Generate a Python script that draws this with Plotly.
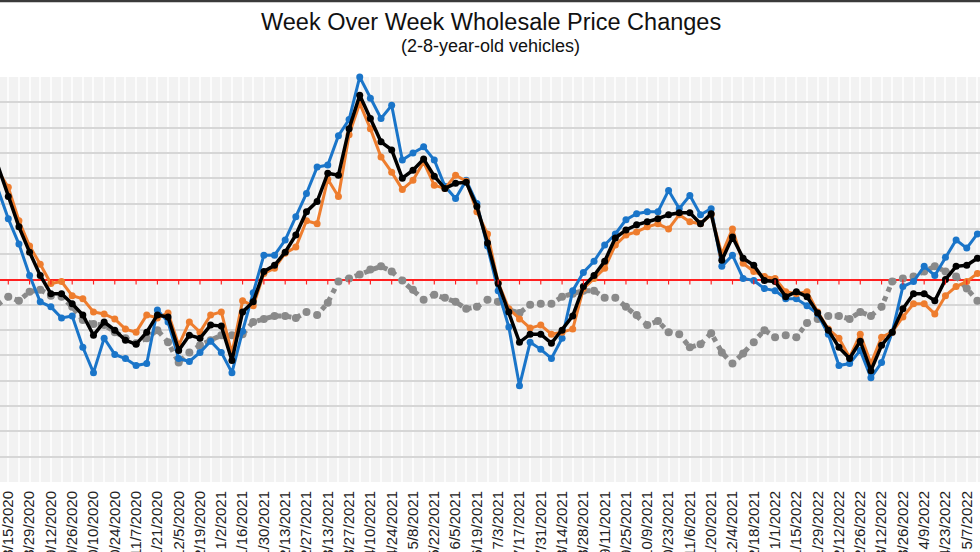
import plotly.graph_objects as go
import pandas as pd

# Weekly observations starting the week of 8/8/2020
start_week = "2020-08-08"

black = [1.13, 0.82, 0.52, 0.27, 0.04, -0.14, -0.14, -0.24, -0.35, -0.55,
         -0.42, -0.50, -0.60, -0.64, -0.52, -0.35, -0.37, -0.70, -0.55, -0.58,
         -0.45, -0.46, -0.80, -0.32, -0.22, 0.08, 0.14, 0.27, 0.44, 0.67,
         0.77, 1.05, 1.03, 1.49, 1.82, 1.59, 1.36, 1.28, 1.00, 1.08,
         1.19, 1.02, 0.90, 0.95, 0.96, 0.72, 0.36, -0.04, -0.32, -0.62,
         -0.54, -0.54, -0.63, -0.50, -0.36, -0.07, 0.04, 0.18, 0.41, 0.49,
         0.54, 0.57, 0.60, 0.64, 0.66, 0.66, 0.55, 0.65, 0.19, 0.42,
         0.21, 0.14, -0.01, -0.02, -0.17, -0.12, -0.17, -0.33, -0.50, -0.67,
         -0.78, -0.61, -0.90, -0.65, -0.52, -0.29, -0.14, -0.14, -0.21, 0.00,
         0.13, 0.14, 0.21]

orange = [1.08, 0.91, 0.58, 0.33, 0.15, -0.04, -0.02, -0.16, -0.19, -0.32,
          -0.34, -0.39, -0.49, -0.52, -0.35, -0.38, -0.33, -0.65, -0.42, -0.52,
          -0.35, -0.32, -0.73, -0.21, -0.26, 0.06, 0.11, 0.26, 0.32, 0.58,
          0.55, 0.99, 0.82, 1.43, 1.74, 1.49, 1.21, 1.06, 0.89, 0.98,
          1.16, 0.93, 0.90, 1.03, 0.97, 0.67, 0.45, -0.03, -0.29, -0.39,
          -0.48, -0.45, -0.54, -0.52, -0.49, -0.09, 0.01, 0.11, 0.34, 0.44,
          0.47, 0.52, 0.55, 0.50, 0.64, 0.57, 0.55, 0.64, 0.25, 0.50,
          0.16, 0.08, 0.03, 0.01, -0.12, -0.14, -0.12, -0.32, -0.49, -0.58,
          -0.77, -0.54, -0.83, -0.57, -0.52, -0.37, -0.24, -0.24, -0.34, -0.16,
          -0.07, -0.02, 0.06]

blue = [0.90, 0.60, 0.35, 0.04, -0.22, -0.27, -0.38, -0.36, -0.67, -0.92,
        -0.58, -0.74, -0.78, -0.85, -0.83, -0.30, -0.42, -0.78, -0.81, -0.72,
        -0.61, -0.72, -0.92, -0.51, -0.13, 0.24, 0.24, 0.39, 0.62, 0.85,
        1.11, 1.13, 1.42, 1.58, 2.00, 1.79, 1.59, 1.72, 1.18, 1.25,
        1.31, 1.18, 0.92, 0.80, 0.98, 0.75, 0.33, -0.11, -0.47, -1.05,
        -0.62, -0.69, -0.78, -0.58, -0.11, 0.07, 0.18, 0.34, 0.45, 0.59,
        0.65, 0.67, 0.67, 0.88, 0.70, 0.83, 0.64, 0.70, 0.13, 0.24,
        0.01, -0.01, -0.09, -0.11, -0.19, -0.19, -0.26, -0.34, -0.54, -0.85,
        -0.83, -0.70, -0.97, -0.82, -0.52, -0.07, -0.02, 0.13, 0.04, 0.22,
        0.39, 0.31, 0.45]

gray = [-0.25, -0.17, -0.21, -0.12, -0.10, -0.16, -0.17, -0.27, -0.40, -0.44,
        -0.45, -0.52, -0.58, -0.63, -0.58, -0.50, -0.62, -0.82, -0.72, -0.65,
        -0.60, -0.55, -0.55, -0.54, -0.42, -0.39, -0.36, -0.36, -0.38, -0.32,
        -0.35, -0.23, -0.02, 0.01, 0.05, 0.10, 0.13, 0.08, -0.01, -0.10,
        -0.20, -0.15, -0.18, -0.22, -0.29, -0.27, -0.20, -0.22, -0.30, -0.33,
        -0.25, -0.24, -0.24, -0.17, -0.14, -0.11, -0.11, -0.18, -0.18, -0.27,
        -0.35, -0.45, -0.41, -0.52, -0.54, -0.67, -0.64, -0.53, -0.72, -0.83,
        -0.73, -0.62, -0.50, -0.57, -0.55, -0.57, -0.43, -0.39, -0.36, -0.36,
        -0.39, -0.32, -0.36, -0.27, -0.02, 0.01, 0.03, 0.08, 0.13, 0.08,
        0.03, -0.09, -0.21]

tick_labels = ["8/15/2020", "8/29/2020", "9/12/2020", "9/26/2020", "10/10/2020",
               "10/24/2020", "11/7/2020", "11/21/2020", "12/5/2020", "12/19/2020",
               "1/2/2021", "1/16/2021", "1/30/2021", "2/13/2021", "2/27/2021",
               "3/13/2021", "3/27/2021", "4/10/2021", "4/24/2021", "5/8/2021",
               "5/22/2021", "6/5/2021", "6/19/2021", "7/3/2021", "7/17/2021",
               "7/31/2021", "8/14/2021", "8/28/2021", "9/11/2021", "9/25/2021",
               "10/9/2021", "10/23/2021", "11/6/2021", "11/20/2021", "12/4/2021",
               "12/18/2021", "1/1/2022", "1/15/2022", "1/29/2022", "2/12/2022",
               "2/26/2022", "3/12/2022", "3/26/2022", "4/9/2022", "4/23/2022",
               "5/7/2022"]

weeks = pd.date_range(start_week, periods=len(black), freq="7D")
tick_dates = pd.to_datetime(tick_labels, format="%m/%d/%Y")

fig = go.Figure()

fig.add_trace(go.Scatter(
    x=weeks, y=gray, mode="lines+markers",
    line=dict(color="#8a8a8a", width=5, dash="dot"),
    marker=dict(color="#8a8a8a", size=8), cliponaxis=False, name="Avg"))
fig.add_trace(go.Scatter(
    x=weeks, y=blue, mode="lines+markers",
    line=dict(color="#1a75c9", width=3),
    marker=dict(color="#1a75c9", size=7), cliponaxis=False, name="Cars"))
fig.add_trace(go.Scatter(
    x=weeks, y=orange, mode="lines+markers",
    line=dict(color="#ee7d2e", width=3),
    marker=dict(color="#ee7d2e", size=7), cliponaxis=False, name="Trucks"))
fig.add_trace(go.Scatter(
    x=weeks, y=black, mode="lines+markers",
    line=dict(color="#000000", width=3.5),
    marker=dict(color="#000000", size=7), cliponaxis=False, name="Overall"))

# small red tick marks hanging from the zero line
shapes = []
for d in tick_dates:
    shapes.append(dict(type="line", xref="x", yref="y", x0=d, x1=d,
                       ysizemode="pixel", yanchor=0, y0=0, y1=-5,
                       line=dict(color="#ff2020", width=1.2)))
shapes.append(dict(type="line", xref="paper", yref="paper", x0=0, x1=1,
                   y0=(552 - 70 - 1.0) / 405.0, y1=(552 - 70 - 1.0) / 405.0,
                   line=dict(color="#3a3a3a", width=2.5)))

fig.update_layout(
    width=980, height=552, autosize=False,
    margin=dict(l=0, r=0, t=77, b=70, pad=0, autoexpand=False),
    paper_bgcolor="white", plot_bgcolor="#f2f2f2",
    showlegend=False,
    font=dict(family="Liberation Sans, Arial, sans-serif", color="#222222"),
    shapes=shapes,
    annotations=[
        dict(text="Week Over Week Wholesale Price Changes", xref="paper", yref="paper",
             x=0.501, y=(482 - 22) / 405.0, xanchor="center", yanchor="middle",
             showarrow=False, font=dict(size=23.5, color="#111111")),
        dict(text="(2-8-year-old vehicles)", xref="paper", yref="paper",
             x=0.5, y=(482 - 46) / 405.0, xanchor="center", yanchor="middle",
             showarrow=False, font=dict(size=18, color="#111111")),
    ],
)

fig.update_xaxes(
    type="date", automargin=False, ticklabeloverflow="allow",
    range=["2020-08-09 13:12", "2022-05-15 16:48"],
    tickmode="array", tickvals=tick_dates, ticktext=tick_labels,
    tickangle=-90, tickfont=dict(size=15, color="#222222"),
    showgrid=False, showline=False,
    ticks="outside", ticklen=2, tickcolor="rgba(0,0,0,0)",
    minor=dict(showgrid=True, gridcolor="#fcfcfc", gridwidth=1.5,
               tick0=start_week, dtick=7 * 86400000),
    zeroline=False,
)
fig.update_yaxes(
    range=[-2.0, 2.0], dtick=0.25, tick0=0, automargin=False,
    showticklabels=False, showgrid=True, gridcolor="#d6d6d6", gridwidth=2,
    zeroline=True, zerolinecolor="#ff2020", zerolinewidth=1.5,
    showline=False, ticks="",
)

fig.write_html(
    "out.html",
    config={"displayModeBar": False},
    post_script="document.body.style.margin='0px';document.body.style.padding='0px';"
                "document.documentElement.style.overflow='hidden';",
)
